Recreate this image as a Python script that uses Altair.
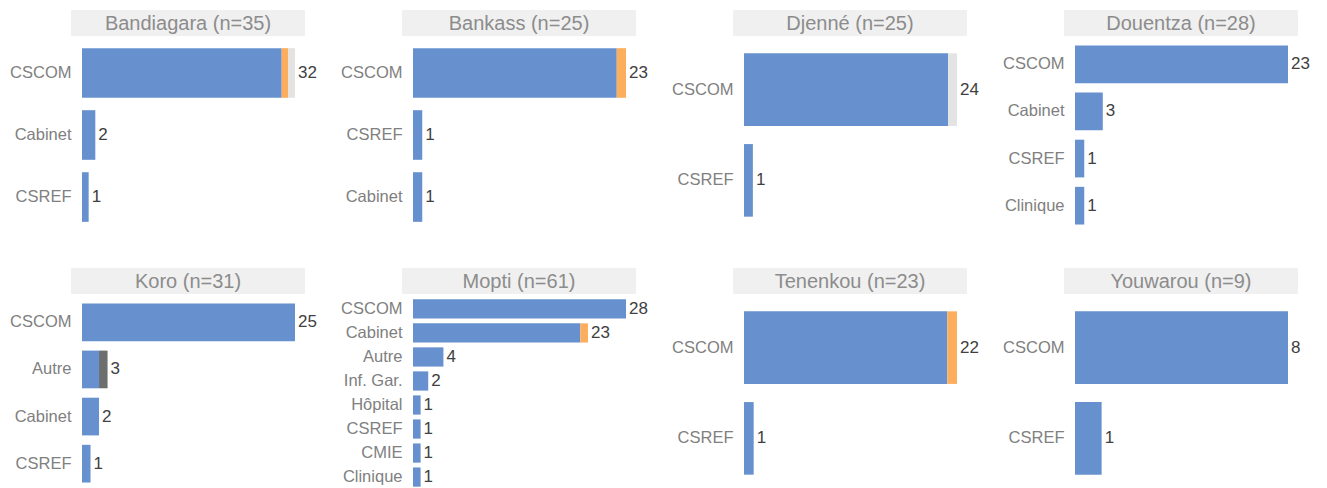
import altair as alt
import pandas as pd

FONT = "Liberation Sans"

districts = ["Bandiagara", "Bankass", "Djenné", "Douentza",
             "Koro", "Mopti", "Tenenkou", "Youwarou"]

# one entry per bar (district, category) with the stacked segment counts
district = ["Bandiagara", "Bandiagara", "Bandiagara",
            "Bankass", "Bankass", "Bankass",
            "Djenné", "Djenné",
            "Douentza", "Douentza", "Douentza", "Douentza",
            "Koro", "Koro", "Koro", "Koro",
            "Mopti", "Mopti", "Mopti", "Mopti", "Mopti", "Mopti", "Mopti", "Mopti",
            "Tenenkou", "Tenenkou",
            "Youwarou", "Youwarou"]
category = ["CSCOM", "Cabinet", "CSREF",
            "CSCOM", "CSREF", "Cabinet",
            "CSCOM", "CSREF",
            "CSCOM", "Cabinet", "CSREF", "Clinique",
            "CSCOM", "Autre", "Cabinet", "CSREF",
            "CSCOM", "Cabinet", "Autre", "Inf. Gar.", "Hôpital", "CSREF", "CMIE", "Clinique",
            "CSCOM", "CSREF",
            "CSCOM", "CSREF"]
val_blue = [30, 2, 1,
            22, 1, 1,
            23, 1,
            23, 3, 1, 1,
            25, 2, 2, 1,
            28, 22, 4, 2, 1, 1, 1, 1,
            21, 1,
            8, 1]
val_orange = [1, 0, 0,
              1, 0, 0,
              0, 0,
              0, 0, 0, 0,
              0, 0, 0, 0,
              0, 1, 0, 0, 0, 0, 0, 0,
              1, 0,
              0, 0]
val_lightgray = [1, 0, 0,
                 0, 0, 0,
                 1, 0,
                 0, 0, 0, 0,
                 0, 0, 0, 0,
                 0, 0, 0, 0, 0, 0, 0, 0,
                 0, 0,
                 0, 0]
val_darkgray = [0, 0, 0,
                0, 0, 0,
                0, 0,
                0, 0, 0, 0,
                0, 1, 0, 0,
                0, 0, 0, 0, 0, 0, 0, 0,
                0, 0,
                0, 0]

segments = ["seg1", "seg2", "seg3", "seg4"]
seg_colors = ["#6690CE", "#FDAE5C", "#E3E3E3", "#6D6F6E"]

rows = []
for d, c, *vals in zip(district, category, val_blue, val_orange, val_lightgray, val_darkgray):
    for i, (s, v) in enumerate(zip(segments, vals)):
        if v > 0:
            rows.append(dict(district=d, category=c, segment=s, seg_order=i, value=v))
df = pd.DataFrame(rows)

W, H = 213, 196


def panel(d):
    sub = df[df.district == d]
    cats = [c for dd, c in zip(district, category) if dd == d]
    n = int(sub.value.sum())
    base = alt.Chart(sub)
    yenc = alt.Y("category:N", sort=cats, title=None,
                 scale=alt.Scale(paddingInner=0.2, paddingOuter=0.18),
                 axis=alt.Axis(ticks=False, domain=False, labelPadding=11,
                               labelFontSize=16.5, labelColor="#808080",
                               labelFont=FONT, labelOverlap=False))
    bars = base.mark_bar().encode(
        x=alt.X("value:Q", stack="zero", axis=None,
                scale=alt.Scale(nice=False, zero=True)),
        y=yenc,
        color=alt.Color("segment:N", legend=None,
                        scale=alt.Scale(domain=segments, range=seg_colors)),
        order=alt.Order("seg_order:Q"),
    )
    labels = base.transform_aggregate(
        total="sum(value)", groupby=["category"]
    ).mark_text(align="left", baseline="middle", dx=3, fontSize=17,
                color="#404040", font=FONT).encode(
        x=alt.X("total:Q", axis=None),
        y=alt.Y("category:N", sort=cats),
        text="total:Q",
    )
    hdr_df = pd.DataFrame({"title": [f"{d} (n={n})"]})
    hdr_rect = alt.Chart(hdr_df).mark_rect(color="#F0F0F0").encode(
        x=alt.value(-11), x2=alt.value(W + 10),
        y=alt.value(-27), y2=alt.value(-1))
    hdr_text = alt.Chart(hdr_df).mark_text(
        fontSize=20, color="#8C8C8C", baseline="middle", align="center",
        font=FONT).encode(
        x=alt.value(W / 2 - 0.5), y=alt.value(-13.5), text="title:N")
    return alt.layer(hdr_rect, hdr_text, bars, labels).properties(width=W, height=H)


chart = alt.concat(
    *[panel(d) for d in districts],
    columns=4,
    spacing={"row": 62, "column": 118},
    bounds="flush",
).resolve_scale(x="independent", y="independent").configure_view(
    stroke=None
).properties(
    padding={"left": 1, "top": 2, "right": 5, "bottom": 5}
)

chart.save("out.html", embed_options={"renderer": "svg", "actions": False})
